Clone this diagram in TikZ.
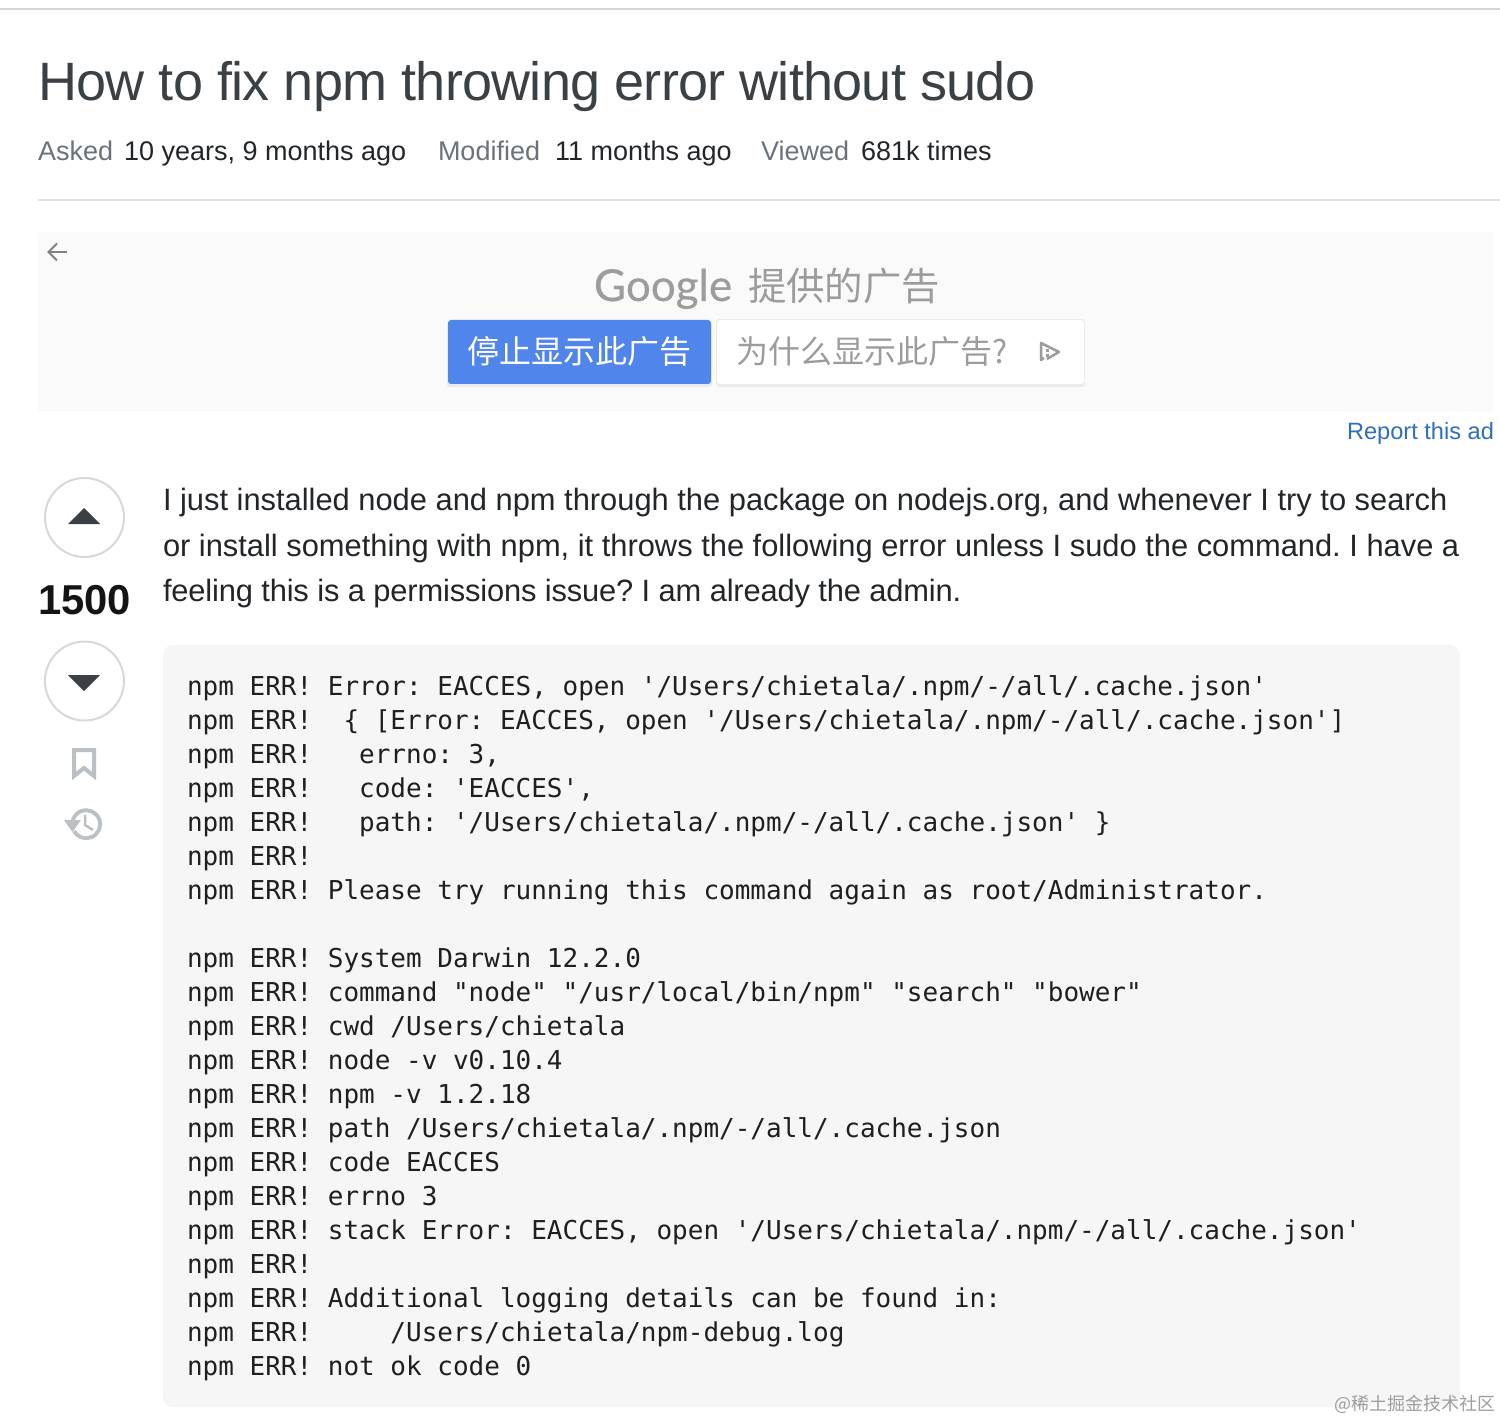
\documentclass[tikz,border=0pt]{standalone}
\usepackage{fontspec}
\setmainfont{Liberation Sans}
\newfontfamily\codefont{DejaVu Sans Mono}
\newfontfamily\cjkfont{Noto Sans CJK SC}
\newfontfamily\gfont[FakeBold=0.4]{Lato}
\newfontfamily\titlefont[LetterSpace=-1.42]{Liberation Sans}
\newfontfamily\tightfont[LetterSpace=-0.5]{Liberation Sans}
\definecolor{titlec}{HTML}{3B4045}
\definecolor{labelc}{HTML}{6A737C}
\definecolor{valc}{HTML}{232629}
\definecolor{linkc}{HTML}{2F6FBD}
\definecolor{adgray}{HTML}{9C9C9C}
\definecolor{btnblue}{HTML}{5085EC}
\definecolor{circc}{HTML}{D6D9DC}
\definecolor{iconc}{HTML}{BBC0C4}
\definecolor{arrc}{HTML}{3B4045}
\definecolor{codebg}{HTML}{F6F6F6}
\definecolor{adbg}{HTML}{FAFAFA}
\frenchspacing
\tikzset{
  txt/.style={anchor=base west,inner sep=0pt,outer sep=0pt},
  titletxt/.style={txt,text=titlec,font=\titlefont\fontsize{54}{54}\selectfont},
  metalabel/.style={txt,text=labelc,font=\fontsize{27}{27}\selectfont},
  metaval/.style={txt,text=valc,font=\fontsize{27}{27}\selectfont},
  bodytxt/.style={txt,text=valc,font=\fontsize{30.85}{30.85}\selectfont},
  codetxt/.style={txt,text=black!88,font=\codefont\fontsize{26}{26}\selectfont},
  votecirc/.style={circle,draw=circc,line width=2pt,fill=white,minimum size=79pt,inner sep=0pt},
  icon/.style={draw=iconc,line width=4pt},
  btnshadow/.style={fill=black!8,rounded corners=3pt},
}
\newcommand{\cl}[3]{\node[codetxt] (#1) at (187,#2) {#3};}
\begin{document}
\begin{tikzpicture}[x=1pt,y=-1pt]
\useasboundingbox[fill=white] (0,0) rectangle (1500,1420);
\draw[color=black!16,line width=2pt] (0,9) -- (1500,9);
\draw[color=black!11,line width=2pt] (38,200) -- (1500,200);
\node[titletxt] (title) at (38,101) {How to fix npm throwing error without sudo};
\node[metalabel] (m1) at (38,161) {Asked};
\node[metaval] (m2) at (124,161) {10 years, 9 months ago};
\node[metalabel] (m3) at (438,161) {Modified};
\node[metaval] (m4) at (555,161) {11 months ago};
\node[metalabel] (m5) at (761,161) {Viewed};
\node[metaval] (m6) at (861,161) {681k times};
% ad
\fill[adbg,rounded corners=4pt] (38,232) rectangle (1494,412);
\draw[color=black!50,line width=2pt] (67,252) -- (49,252);
\draw[color=black!50,line width=2pt] (57,243.5) -- (48.5,252) -- (57,260.5);
\node[txt,text=adgray,font=\gfont\fontsize{44}{44}\selectfont] (g) at (594,301) {Google};
\node[txt,text=adgray,font=\cjkfont\fontsize{38.4}{38.4}\selectfont] (gc) at (748,301) {提供的广告};
\fill[btnshadow] (447,322) rectangle (712,387);
\fill[btnblue,rounded corners=3pt] (448,320) rectangle (711,384);
\fill[btnshadow] (716,319) rectangle (1085,387);
\fill[white,rounded corners=3pt] (717,320) rectangle (1084,384);
\node[txt,text=white,font=\cjkfont\fontsize{32}{32}\selectfont] (stop) at (467,364) {停止显示此广告};
\node[txt,text=adgray,font=\cjkfont\fontsize{32}{32}\selectfont] (why) at (736,364) {为什么显示此广告?};
\draw[color=adgray,line width=2.5pt,line join=round] (1044,358) -- (1041,360) -- (1041,343) -- (1059,352) -- (1047,359);
\fill[adgray] (1046,349) rectangle (1048.5,352);
\fill[adgray] (1046,354) rectangle (1048.5,357);
\node[txt,text=linkc,font=\fontsize{23.6}{23.6}\selectfont] (report) at (1347,440) {Report this ad};
% votes
\node[votecirc] (up) at (84.5,517.5) {};
\fill[arrc] (68,524) -- (84,508) -- (100,524) -- cycle;
\node[txt,text=black!92,font=\bfseries\fontsize{41.8}{41.8}\selectfont] (score) at (38,614) {1500};
\node[votecirc] (down) at (84.5,681) {};
\fill[arrc] (68,675) -- (84,691) -- (100,675) -- cycle;
\draw[icon,line join=miter] (74,776) -- (74,752) -- ++(0,-2) -- (94,750) -- (94,776) -- (84,768) -- cycle;
\draw[icon,line width=3.8pt] (73,829) arc[start angle=200,end angle=-150,radius=14pt];
\fill[iconc] (64,820) -- (81,820) -- (72.5,832) -- cycle;
\draw[iconc,line width=2.5pt] (85,815) -- (85,825) -- (93,830);
% body
\node[bodytxt] (b1) at (163,511) {I just installed node and npm through the package on nodejs.org, and whenever I try to search};
\node[bodytxt] (b2) at (163,556) {or install something with npm, it throws the following error unless I sudo the command. I have a};
\node[bodytxt] (b3) at (163,601) {\tightfont\fontsize{30.85}{30.85}\selectfont feeling this is a permissions issue? I am already the admin.};
% code
\fill[codebg,rounded corners=10pt] (163,645) rectangle (1460,1407);
\cl{c1}{695}{npm ERR! Error: EACCES, open '/Users/chietala/.npm/-/all/.cache.json'}
\cl{c2}{729}{npm ERR!~~\{ [Error: EACCES, open '/Users/chietala/.npm/-/all/.cache.json']}
\cl{c3}{763}{npm ERR!~~~errno: 3,}
\cl{c4}{797}{npm ERR!~~~code: 'EACCES',}
\cl{c5}{831}{npm ERR!~~~path: '/Users/chietala/.npm/-/all/.cache.json' \}}
\cl{c6}{865}{npm ERR!}
\cl{c7}{899}{npm ERR! Please try running this command again as root/Administrator.}
\cl{c8}{967}{npm ERR! System Darwin 12.2.0}
\cl{c9}{1001}{npm ERR! command "node" "/usr/local/bin/npm" "search" "bower"}
\cl{c10}{1035}{npm ERR! cwd /Users/chietala}
\cl{c11}{1069}{npm ERR! node -v v0.10.4}
\cl{c12}{1103}{npm ERR! npm -v 1.2.18}
\cl{c13}{1137}{npm ERR! path /Users/chietala/.npm/-/all/.cache.json}
\cl{c14}{1171}{npm ERR! code EACCES}
\cl{c15}{1205}{npm ERR! errno 3}
\cl{c16}{1239}{npm ERR! stack Error: EACCES, open '/Users/chietala/.npm/-/all/.cache.json'}
\cl{c17}{1273}{npm ERR!}
\cl{c18}{1307}{npm ERR! Additional logging details can be found in:}
\cl{c19}{1341}{npm ERR!~~~~~/Users/chietala/npm-debug.log}
\cl{c20}{1375}{npm ERR! not ok code 0}
\node[txt,text=black!38,font=\cjkfont\fontsize{18}{18}\selectfont] (wm) at (1334,1410) {@稀土掘金技术社区};
\end{tikzpicture}
\end{document}
